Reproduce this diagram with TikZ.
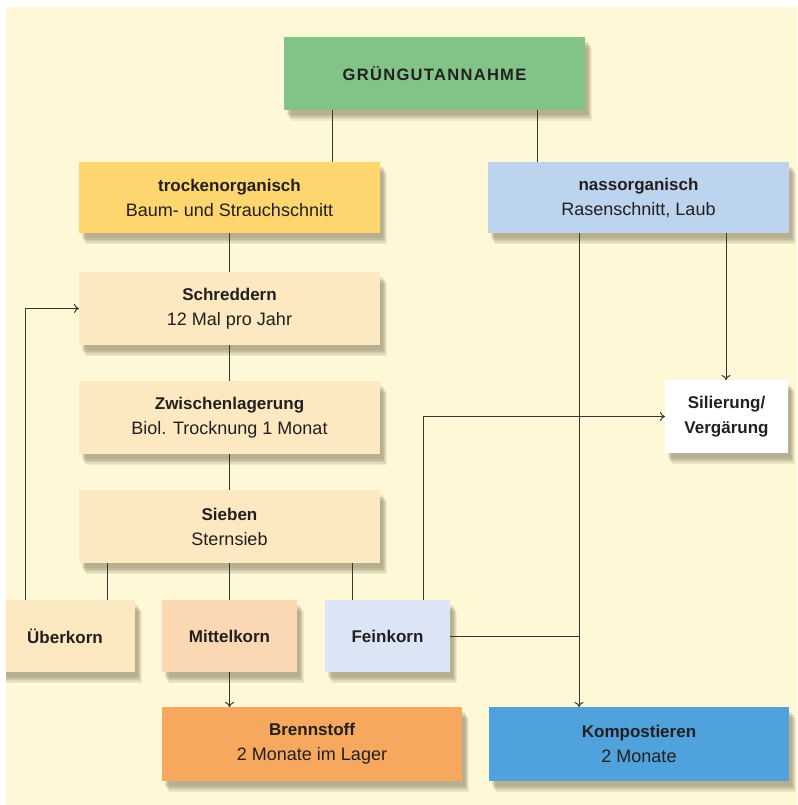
\documentclass[tikz,border=0pt]{standalone}
\usepackage{fontspec}
\setmainfont{Liberation Sans}
\usetikzlibrary{arrows.meta,shadows}
\definecolor{bgcream}{HTML}{FEF8D7}
\definecolor{cgreen}{HTML}{82C388}
\definecolor{cyellow}{HTML}{FDD66F}
\definecolor{clblue}{HTML}{BDD4EF}
\definecolor{cbeige}{HTML}{FCE9C1}
\definecolor{cpeach}{HTML}{FAD8B3}
\definecolor{cpale}{HTML}{DBE5F6}
\definecolor{corange}{HTML}{F6A95E}
\definecolor{cblue}{HTML}{4FA2DB}
\definecolor{txt}{HTML}{231F20}
\definecolor{linec}{HTML}{383634}
\definecolor{shd}{HTML}{6E6446}
\tikzset{
  softshadow/.style={
    general shadow={fill=shd, opacity=0.09, shadow xshift=7pt, shadow yshift=-11pt},
    general shadow={fill=shd, opacity=0.11, shadow xshift=6pt, shadow yshift=-9.5pt},
    general shadow={fill=shd, opacity=0.13, shadow xshift=5pt, shadow yshift=-8pt},
    general shadow={fill=shd, opacity=0.14, shadow xshift=4pt, shadow yshift=-6.5pt},
    general shadow={fill=shd, opacity=0.14, shadow xshift=3pt, shadow yshift=-5pt}},
  box/.style={rectangle, inner sep=0pt, outer sep=0pt, align=center, text=txt,
    font=\fontsize{18}{25}\selectfont, softshadow},
  conn/.style={draw=linec, line width=1pt},
  arr/.style={conn, -{To[length=5pt,width=9pt]}},
}
\newcommand{\bt}[1]{{\bfseries\fontsize{17}{25}\selectfont #1}}
\begin{document}
\begin{tikzpicture}[x=1pt,y=-1pt]
\useasboundingbox (0,0) rectangle (797,805);
\fill[white] (0,0) rectangle (797,805);
\begin{scope}
\clip (6,7) rectangle (797,805);
\fill[bgcream] (6,7) rectangle (797,805);

\node[box, fill=cgreen, minimum width=301pt, minimum height=73pt] (gruen) at (434.5,73.5)
  {\bfseries\fontsize{16.5}{20}\selectfont\addfontfeature{LetterSpace=8}GRÜNGUTANNAHME};
\node[box, fill=cyellow, minimum width=301pt, minimum height=71pt] (trocken) at (229.5,197.5)
  {\bt{trockenorganisch}\\Baum- und Strauchschnitt};
\node[box, fill=clblue, minimum width=301pt, minimum height=71pt] (nass) at (638.5,197.5)
  {\bt{nassorganisch}\\Rasenschnitt, Laub};
\node[box, fill=cbeige, minimum width=301pt, minimum height=73pt] (schred) at (229.5,308.5)
  {\bt{Schreddern}\\12 Mal pro Jahr};
\node[box, fill=cbeige, minimum width=301pt, minimum height=73pt] (zwisch) at (229.5,417.5)
  {\bt{Zwischenlagerung}\\Biol. Trocknung 1 Monat};
\node[box, fill=cbeige, minimum width=301pt, minimum height=73pt] (sieben) at (229.5,526.5)
  {\bt{Sieben}\\Sternsieb};
\node[box, fill=cbeige, minimum width=140pt, minimum height=72pt] (ueber) at (65,636)
  {\bt{Überkorn}};
\node[box, fill=cpeach, minimum width=135pt, minimum height=72pt] (mittel) at (229.5,636)
  {\bt{Mittelkorn}};
\node[box, fill=cpale, minimum width=125pt, minimum height=72pt] (fein) at (387.5,636)
  {\bt{Feinkorn}};
\node[box, fill=corange, minimum width=300pt, minimum height=74pt] (brenn) at (312,744)
  {\bt{Brennstoff}\\2 Monate im Lager};
\node[box, fill=cblue, minimum width=300pt, minimum height=74pt] (kompost) at (639,744)
  {\bt{Kompostieren}\\2 Monate};
\node[box, fill=white, minimum width=123pt, minimum height=73pt] (silier) at (726.5,416.5)
  {\bt{Silierung/}\\\bt{Vergärung}};

\coordinate (cA) at (332,0);
\coordinate (cB) at (537,0);
\coordinate (cU) at (107,0);
\coordinate (cF) at (352,0);
\coordinate (cL) at (25,0);
\coordinate (cFe) at (423,0);
\coordinate (cS) at (726,0);
\coordinate (cK) at (579,0);

\draw[conn] (gruen.south -| cA) -- (trocken.north -| cA);
\draw[conn] (gruen.south -| cB) -- (nass.north -| cB);
\draw[conn] (trocken) -- (schred);
\draw[conn] (schred) -- (zwisch);
\draw[conn] (zwisch) -- (sieben);
\draw[conn] (sieben.south -| cU) -- (ueber.north -| cU);
\draw[conn] (sieben) -- (mittel);
\draw[conn] (sieben.south -| cF) -- (fein.north -| cF);
\draw[arr] (ueber.north -| cL) |- (schred.west);
\draw[arr] (fein.north -| cFe) |- (silier.west);
\draw[arr] (nass.south -| cS) -- (silier.north -| cS);
\draw[arr] (nass.south -| cK) -- (kompost.north -| cK);
\draw[conn] (fein.east) -- (fein.east -| cK);
\draw[arr] (mittel.south) -- (mittel.south |- brenn.north);
\end{scope}
\end{tikzpicture}
\end{document}
